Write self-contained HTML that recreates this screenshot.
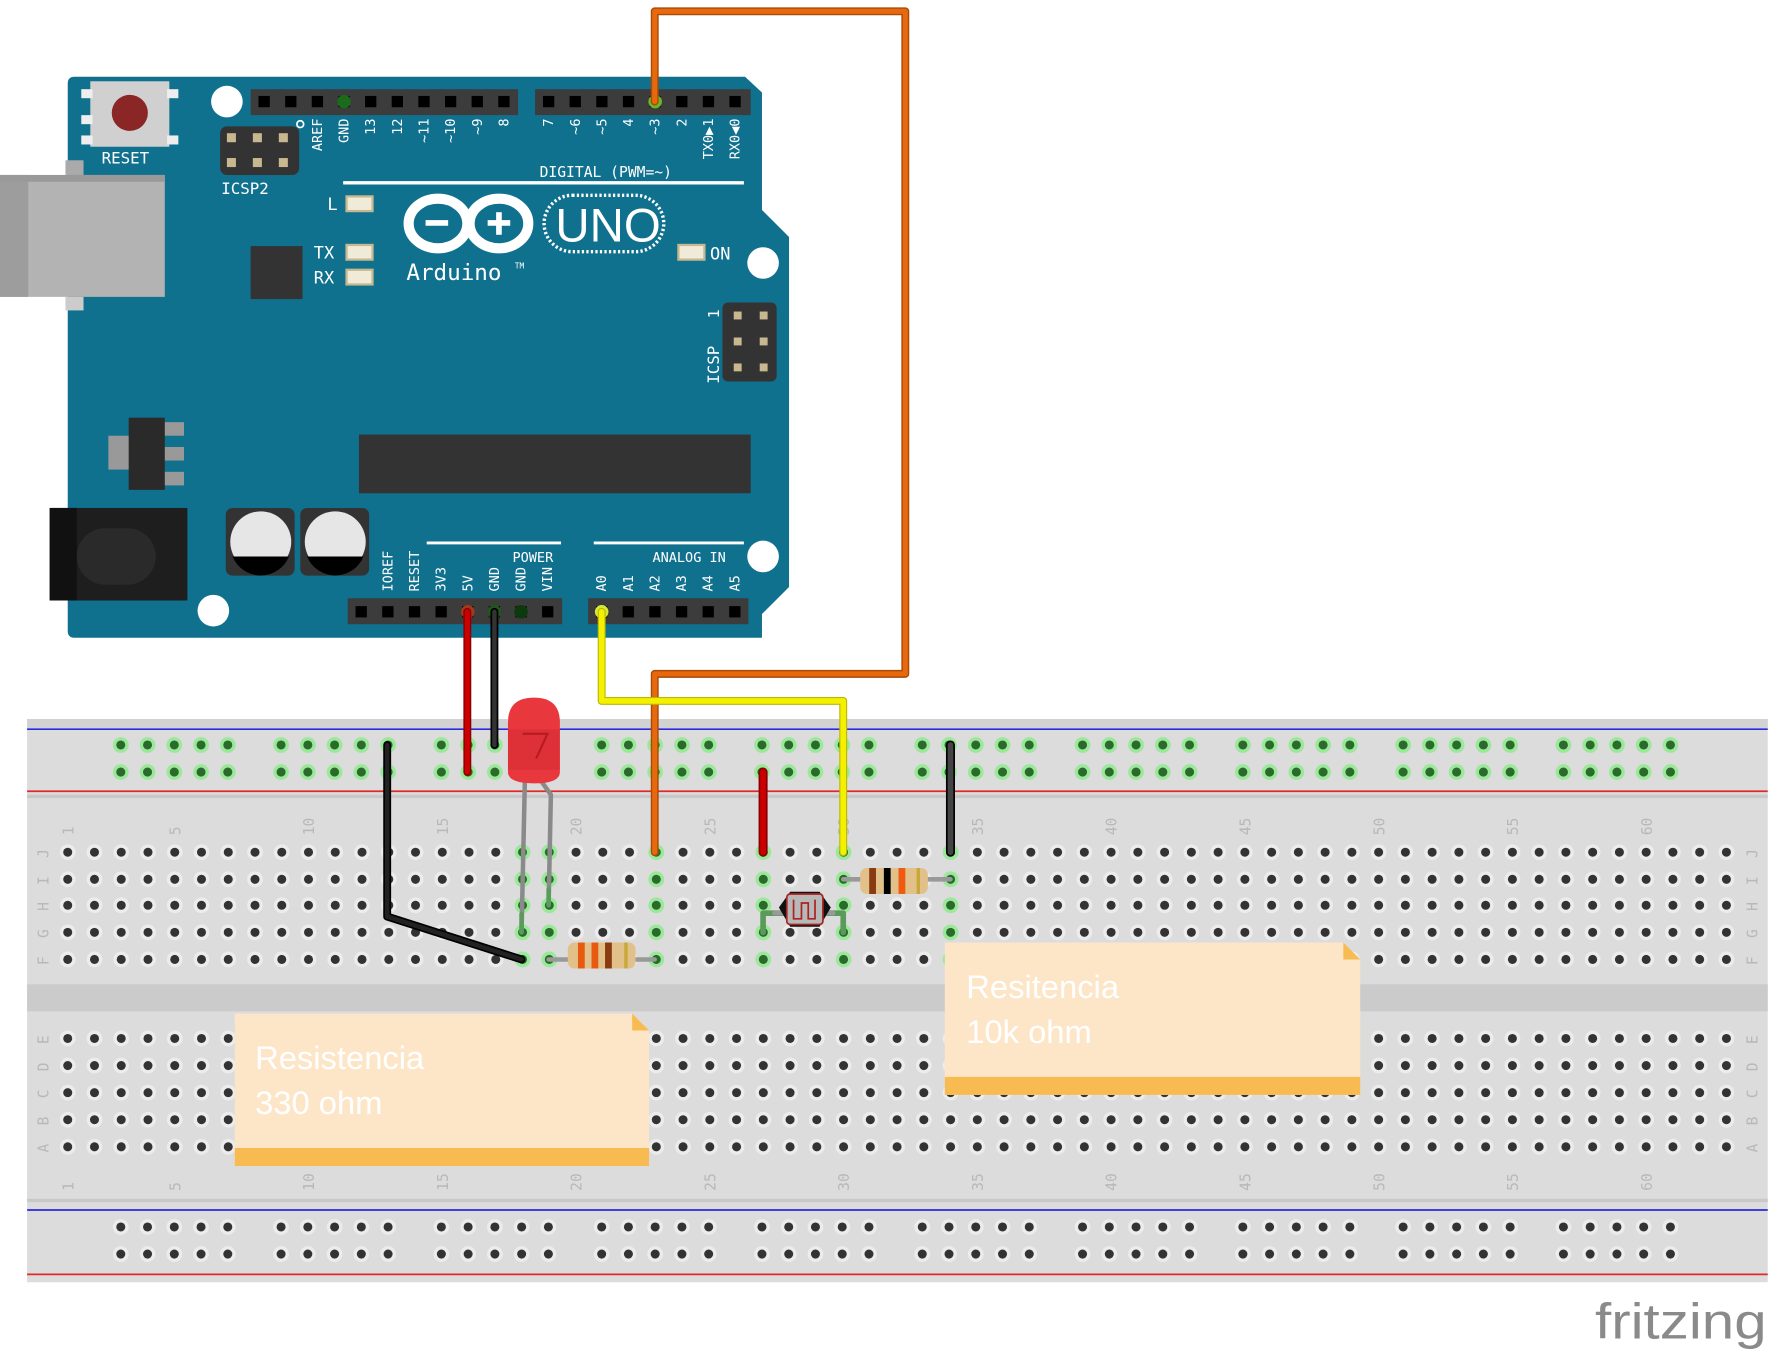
<!DOCTYPE html>
<html><head><meta charset="utf-8"><style>
html,body{margin:0;padding:0;background:#fff;}
svg{display:block;}
text{font-family:"DejaVu Sans Mono","Liberation Mono",monospace;}
</style></head><body>
<svg id="s" width="1770" height="1350" viewBox="0 0 1568 1196" preserveAspectRatio="none" xmlns="http://www.w3.org/2000/svg">
<rect width="1568" height="1196" fill="#fff"/>
<rect x="24" y="637" width="1542" height="499" fill="#dcdcdc"/>
<rect x="24" y="637" width="1542" height="8" fill="#d2d2d2"/>
<line x1="24" y1="646" x2="1566" y2="646" stroke="#2a2ae0" stroke-width="1.5"/>
<line x1="24" y1="701" x2="1566" y2="701" stroke="#e02a2a" stroke-width="1.5"/>
<rect x="24" y="704" width="1542" height="3" fill="#c8c8c8"/>
<rect x="24" y="872" width="1542" height="24" fill="#cbcbcb"/>
<rect x="24" y="1062" width="1542" height="3" fill="#c8c8c8"/>
<line x1="24" y1="1072" x2="1566" y2="1072" stroke="#2a2ae0" stroke-width="1.5"/>
<line x1="24" y1="1129" x2="1566" y2="1129" stroke="#e02a2a" stroke-width="1.5"/>
<g id="holes"></g>
<g id="labels" fill="#b8b8b8" font-size="13"></g>

<path d="M66,68 L660,68 L675,82 L675,186 L699,210 L699,520 L675,544 L675,565 L66,565 Q60,565 60,559 L60,74 Q60,68 66,68 Z" fill="#10718f"/>
<rect x="0" y="155" width="146" height="108" fill="#b3b3b3"/>
<rect x="0" y="155" width="25" height="108" fill="#9d9d9d"/>
<rect x="0" y="155" width="146" height="6" fill="#999"/>
<rect x="58" y="142" width="16" height="13" fill="#aaa"/><rect x="58" y="263" width="16" height="12" fill="#ccc"/>
<rect x="80" y="72" width="70" height="58" fill="#d0d0d0"/>
<rect x="72" y="79" width="10" height="8" fill="#eee"/><rect x="72" y="102" width="10" height="8" fill="#eee"/><rect x="72" y="120" width="10" height="8" fill="#eee"/>
<rect x="148" y="79" width="10" height="8" fill="#eee"/><rect x="148" y="120" width="10" height="8" fill="#eee"/>
<circle cx="115" cy="100" r="16" fill="#8a2626"/>
<text x="90" y="145" fill="#fff" font-size="14">RESET</text>
<circle cx="201" cy="90" r="14" fill="#fff"/>
<circle cx="676" cy="233" r="14" fill="#fff"/>
<circle cx="676" cy="493" r="14" fill="#fff"/>
<circle cx="189" cy="541" r="14" fill="#fff"/>
<rect x="195" y="112" width="70" height="43" rx="6" fill="#333"/>
<g fill="#c8b890"><rect x="201" y="118" width="8" height="8"/><rect x="224" y="118" width="8" height="8"/><rect x="247" y="118" width="8" height="8"/><rect x="201" y="140" width="8" height="8"/><rect x="224" y="140" width="8" height="8"/><rect x="247" y="140" width="8" height="8"/></g>
<circle cx="266" cy="110" r="3" fill="none" stroke="#fff" stroke-width="1.5"/>
<text x="196" y="172" fill="#fff" font-size="14">ICSP2</text>
<rect x="222" y="218" width="46" height="47" fill="#333"/>
<text x="290" y="186" fill="#fff" font-size="15">L</text>
<text x="278" y="229" fill="#fff" font-size="15">TX</text>
<text x="278" y="251" fill="#fff" font-size="15">RX</text>
<rect x="307" y="174" width="23" height="13" fill="#f0ead8" stroke="#c8b890" stroke-width="2"/>
<rect x="307" y="217" width="23" height="13" fill="#f0ead8" stroke="#c8b890" stroke-width="2"/>
<rect x="307" y="239" width="23" height="13" fill="#f0ead8" stroke="#c8b890" stroke-width="2"/>
<rect x="601" y="217" width="23" height="13" fill="#f0ead8" stroke="#c8b890" stroke-width="2"/>
<text x="629" y="230" fill="#fff" font-size="15">ON</text>
<line x1="304" y1="162" x2="659" y2="162" stroke="#fff" stroke-width="3"/>
<text x="478" y="157" fill="#fff" font-size="13">DIGITAL (PWM=~)</text>
<g fill="none" stroke="#fff" stroke-width="9">
<ellipse cx="388" cy="198" rx="26" ry="22"/><ellipse cx="442" cy="198" rx="26" ry="22"/>
</g>
<rect x="377" y="195" width="20" height="5" fill="#fff"/>
<rect x="432" y="195" width="20" height="5" fill="#fff"/><rect x="439.5" y="188" width="5" height="20" fill="#fff"/>
<rect x="482" y="173" width="106" height="50" rx="25" fill="none" stroke="#fff" stroke-width="3" stroke-dasharray="2 2"/>
<text x="492" y="214" fill="#fff" font-size="42" style="font-family:'Liberation Sans',sans-serif">UNO</text>
<text x="360" y="248" fill="#fff" font-size="20">Arduino</text>
<text x="456" y="238" fill="#fff" font-size="7">TM</text>
<rect x="640" y="268" width="48" height="70" rx="5" fill="#333"/>
<g fill="#c8b890"><rect x="650" y="276" width="7" height="7"/><rect x="673" y="276" width="7" height="7"/><rect x="650" y="299" width="7" height="7"/><rect x="673" y="299" width="7" height="7"/><rect x="650" y="322" width="7" height="7"/><rect x="673" y="322" width="7" height="7"/></g>
<text transform="translate(637,340) rotate(-90)" fill="#fff" font-size="14">ICSP</text>
<text transform="translate(637,282) rotate(-90)" fill="#fff" font-size="13">1</text>
<rect x="318" y="385" width="347" height="52" fill="#333"/>
<rect x="96" y="386" width="20" height="30" fill="#999"/>
<rect x="140" y="374" width="23" height="12" fill="#999"/><rect x="140" y="396" width="23" height="12" fill="#999"/><rect x="140" y="418" width="23" height="12" fill="#999"/>
<rect x="114" y="370" width="32" height="64" fill="#2a2a2a"/>
<rect x="44" y="450" width="122" height="82" fill="#1e1e1e"/>
<rect x="44" y="450" width="24" height="82" fill="#111"/>
<rect x="68" y="468" width="70" height="50" rx="25" fill="#2a2a2a"/>
<rect x="200" y="450" width="61" height="60" rx="6" fill="#333"/>
<rect x="266" y="450" width="61" height="60" rx="6" fill="#333"/>
<circle cx="231" cy="480" r="27" fill="#e6e6e6"/><path d="M206,493 L256,493 A27,27 0 0 1 206,493 Z" fill="#000"/>
<circle cx="297" cy="480" r="27" fill="#e6e6e6"/><path d="M272,493 L322,493 A27,27 0 0 1 272,493 Z" fill="#000"/>
<rect x="222" y="79" width="237" height="23" fill="#3c3c3c"/>
<rect x="474" y="79" width="191" height="23" fill="#3c3c3c"/>
<rect x="308" y="530" width="190" height="23" fill="#3c3c3c"/>
<rect x="521" y="530" width="142" height="23" fill="#3c3c3c"/>
<g id="pins"></g>
<line x1="378" y1="481" x2="497" y2="481" stroke="#fff" stroke-width="2.5"/>
<line x1="526" y1="481" x2="659" y2="481" stroke="#fff" stroke-width="2.5"/>
<text x="454" y="498" fill="#fff" font-size="12">POWER</text>
<text x="578" y="498" fill="#fff" font-size="12">ANALOG IN</text>
<g id="plabels" fill="#fff" font-size="12"></g>

<g fill="none" stroke-linejoin="round" stroke-linecap="round">
<polyline points="580,90 580,10 802,10 802,597 580,597 580,755" stroke="#a84a08" stroke-width="7"/>
<polyline points="580,90 580,10 802,10 802,597 580,597 580,755" stroke="#e8680e" stroke-width="4.5"/>
<polyline points="533,542 533,621 747,621 747,755" stroke="#b8b800" stroke-width="7"/>
<polyline points="533,542 533,621 747,621 747,755" stroke="#f4f000" stroke-width="5"/>
<line x1="414" y1="542" x2="414" y2="684" stroke="#800" stroke-width="7"/><line x1="414" y1="542" x2="414" y2="684" stroke="#c00" stroke-width="4.5"/>
<line x1="438" y1="542" x2="438" y2="660" stroke="#000" stroke-width="7"/><line x1="438" y1="542" x2="438" y2="660" stroke="#333" stroke-width="4"/>
<polyline points="343,660 343,812 462,850" stroke="#000" stroke-width="7"/><polyline points="343,660 343,812 462,850" stroke="#222" stroke-width="4"/>
<line x1="676" y1="684" x2="676" y2="755" stroke="#800" stroke-width="8"/><line x1="676" y1="684" x2="676" y2="755" stroke="#c00" stroke-width="5"/>
<line x1="842" y1="660" x2="842" y2="755" stroke="#000" stroke-width="8"/><line x1="842" y1="660" x2="842" y2="755" stroke="#444" stroke-width="5"/>
<polyline points="465,690 462,826" stroke="#8a8a8a" stroke-width="4"/>
<polyline points="478,690 488,704 486,802" stroke="#8a8a8a" stroke-width="4"/>
<line x1="462" y1="810" x2="462" y2="826" stroke="#5a9a5a" stroke-width="4"/>
<line x1="486" y1="788" x2="486" y2="802" stroke="#5a9a5a" stroke-width="4"/>
<line x1="486" y1="850" x2="580" y2="850" stroke="#999" stroke-width="4"/>
<line x1="747" y1="779" x2="842" y2="779" stroke="#999" stroke-width="4"/>
<polyline points="676,826 676,809 747,809 747,826" stroke="#5a9a5a" stroke-width="5"/>
<line x1="686" y1="809" x2="738" y2="809" stroke="#999" stroke-width="4"/>
</g>
<path d="M450,640 Q450,618 473,618 Q496,618 496,640 L496,684 Q496,694 473,694 Q450,694 450,684 Z" fill="#e8383e"/>
<rect x="450" y="646" width="46" height="36" fill="#d42a30" opacity="0.5"/>
<path d="M463,650 L485,650 L475,672" fill="none" stroke="#b81c20" stroke-width="2"/>
<rect x="503" y="835" width="60" height="23" rx="6" fill="#e2c08a"/>
<rect x="512" y="835" width="6" height="23" fill="#e85a10"/><rect x="524" y="835" width="6" height="23" fill="#e85a10"/><rect x="536" y="835" width="6" height="23" fill="#8a3a10"/><rect x="553" y="835" width="3" height="23" fill="#c8a838"/>
<rect x="762" y="769" width="60" height="23" rx="6" fill="#e2c08a"/>
<rect x="770" y="769" width="6" height="23" fill="#8a3a10"/><rect x="783" y="769" width="6" height="23" fill="#000"/><rect x="796" y="769" width="6" height="23" fill="#f05a10"/><rect x="812" y="769" width="3" height="23" fill="#c8a838"/>
<path d="M700,790 L726,790 L736,804 L726,821 L700,821 L690,804 Z" fill="#111"/>
<rect x="697" y="792" width="32" height="27" rx="3" fill="#b8b8b8" stroke="#a22" stroke-width="1.5"/>
<path d="M703,797 L703,814 L710,814 L710,800 L716,800 L716,814 L722,814 L722,797" fill="none" stroke="#a22" stroke-width="1.5"/>
<path d="M208,898 L560,898 L575,913 L575,1033 L208,1033 Z" fill="#fde6c8"/>
<rect x="208" y="1017" width="367" height="16" fill="#f8bb52"/>
<path d="M560,898 L575,913 L560,913 Z" fill="#f8bb52"/>
<text x="226" y="947" fill="#fff" font-size="29" style="font-family:'Liberation Sans',sans-serif">Resistencia</text>
<text x="226" y="987" fill="#fff" font-size="29" style="font-family:'Liberation Sans',sans-serif">330 ohm</text>
<path d="M837,835 L1190,835 L1205,850 L1205,970 L837,970 Z" fill="#fde6c8"/>
<rect x="837" y="954" width="368" height="16" fill="#f8bb52"/>
<path d="M1190,835 L1205,850 L1190,850 Z" fill="#f8bb52"/>
<text x="856" y="884" fill="#fff" font-size="29" style="font-family:'Liberation Sans',sans-serif">Resitencia</text>
<text x="856" y="924" fill="#fff" font-size="29" style="font-family:'Liberation Sans',sans-serif">10k ohm</text>
<text x="1413" y="1186" fill="#8a8a8a" font-size="44" textLength="152" lengthAdjust="spacingAndGlyphs" style="font-family:'Liberation Sans',sans-serif">fritzing</text>
</svg>
<script>
var NS="http://www.w3.org/2000/svg";
function el(p,t,a,txt){var e=document.createElementNS(NS,t);for(var k in a)e.setAttribute(k,a[k]);if(txt!==undefined)e.textContent=txt;document.getElementById(p).appendChild(e);return e;}
function hole(x,y,g){el("holes","circle",{cx:x,cy:y,r:7,fill:g?"#9be89b":"#ececec"});el("holes","circle",{cx:x,cy:y,r:4,fill:g?"#2a6a2a":"#333"});}
var green={18:1,19:1,23:1,27:1,30:1,34:1};
var rowsT=[755,779,802,826,850],rowsB=[920,944,968,992,1016];
for(var c=1;c<=63;c++){var x=60+(c-1)*23.7;
 rowsT.forEach(function(y){hole(x,y,green[c]);});
 rowsB.forEach(function(y){hole(x,y,0);});
 if(c==1||c%5==0){el("labels","text",{transform:"translate("+(x+5)+",740) rotate(-90)"},String(c));el("labels","text",{transform:"translate("+(x+5)+",1055) rotate(-90)"},String(c));}
}
var L=["J","I","H","G","F"],L2=["E","D","C","B","A"];
for(var i=0;i<5;i++){el("labels","text",{transform:"translate(43,"+(rowsT[i]+5)+") rotate(-90)"},L[i]);el("labels","text",{transform:"translate(1557,"+(rowsT[i]+5)+") rotate(-90)"},L[i]);
el("labels","text",{transform:"translate(43,"+(rowsB[i]+5)+") rotate(-90)"},L2[i]);el("labels","text",{transform:"translate(1557,"+(rowsB[i]+5)+") rotate(-90)"},L2[i]);}
for(var g=0;g<10;g++)for(var j=0;j<5;j++){var x=107+g*142+j*23.7;
 [660,684].forEach(function(y){hole(x,y,1);});
 [1087,1111].forEach(function(y){hole(x,y,0);});}
function pin(x,y,gr){el("pins","rect",{x:x-5,y:y-5,width:10,height:10,fill:"#000"});if(gr)el("pins","circle",{cx:x,cy:y,r:6,fill:gr});}
var dl=["AREF","GND","13","12","~11","~10","~9","8"];
for(var i=0;i<10;i++){var x=234+i*23.6;pin(x,90,i==3?"#1c6a1c":null);if(i>=2){el("plabels","text",{transform:"translate("+(x+4)+",105) rotate(-90)","text-anchor":"end"},dl[i-2]);}}
var dr=["7","~6","~5","4","~3","2","TX0▶1","RX0◀0"];
for(var i=0;i<8;i++){var x=486+i*23.6;pin(x,90,i==4?"#6ab82a":null);el("plabels","text",{transform:"translate("+(x+4)+",105) rotate(-90)","text-anchor":"end"},dr[i]);}
var pl=["","IOREF","RESET","3V3","5V","GND","GND","VIN"];
for(var i=0;i<8;i++){var x=320+i*23.6;pin(x,542,i==4?"#a4381a":i==5?"#1c5a1c":i==6?"#0c3a0c":null);if(pl[i])el("plabels","text",{transform:"translate("+(x+4)+",524) rotate(-90)"},pl[i]);}
for(var i=0;i<6;i++){var x=533+i*23.6;pin(x,542,i==0?"#d8e838":null);el("plabels","text",{transform:"translate("+(x+4)+",524) rotate(-90)"},"A"+i);}
</script>
</body></html>
